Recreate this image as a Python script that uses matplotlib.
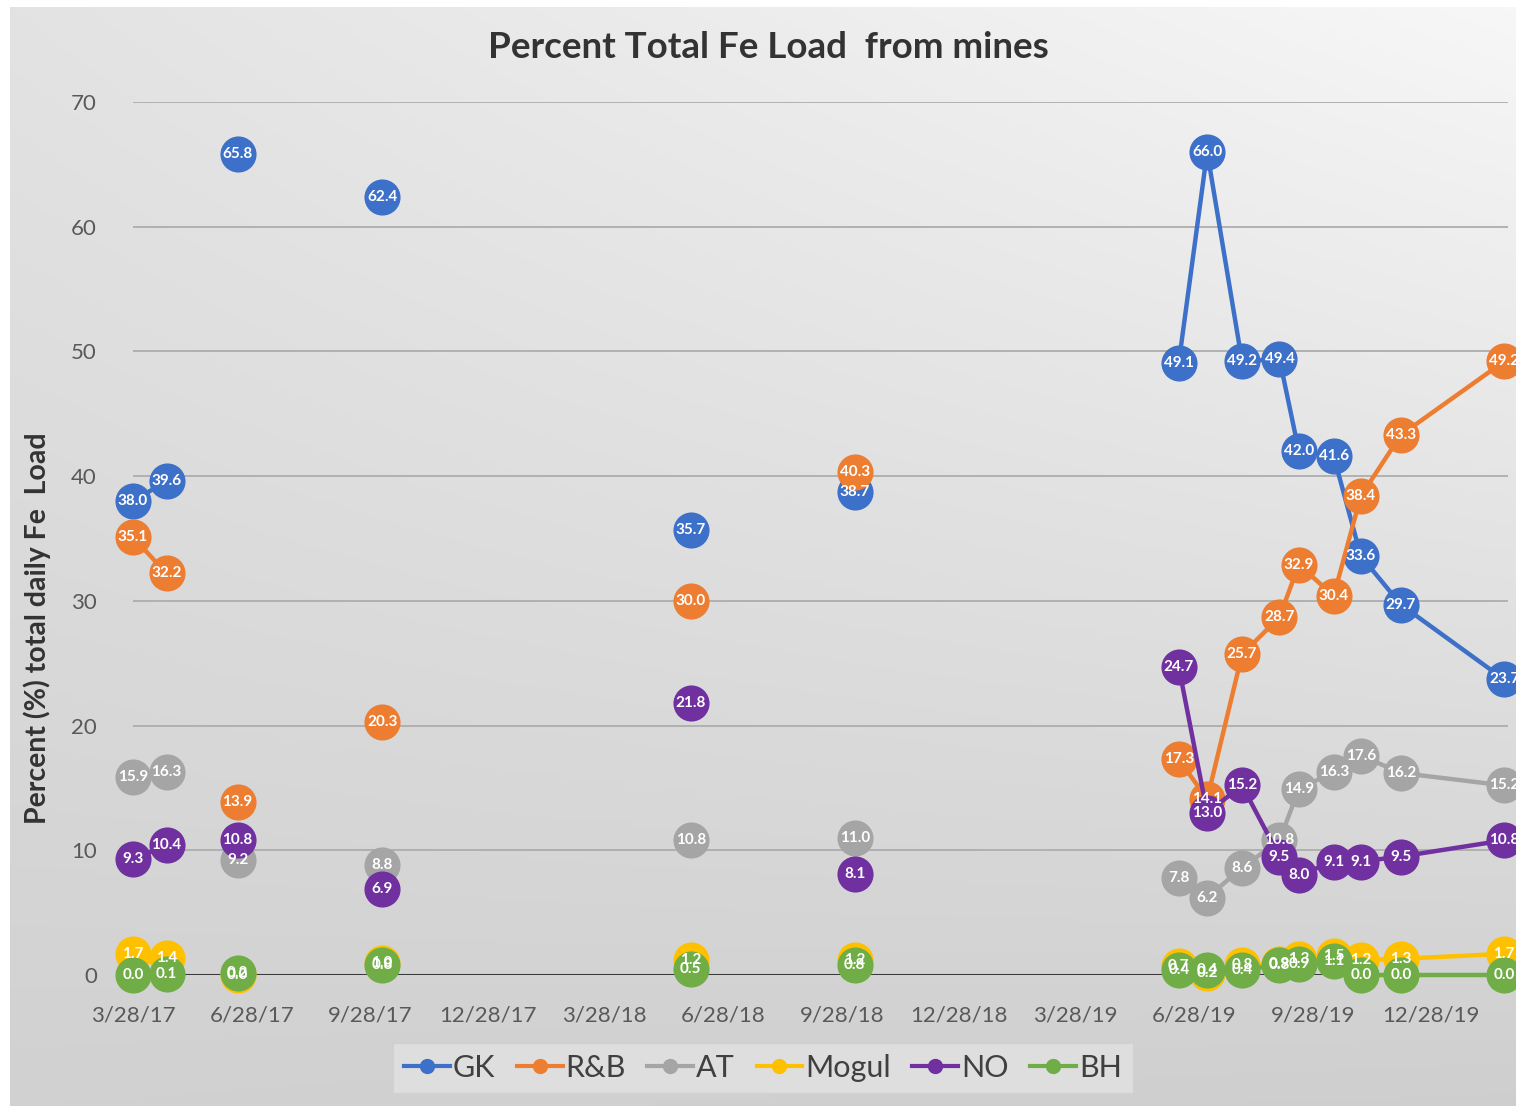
import datetime as dt
import numpy as np
import matplotlib.pyplot as plt
import matplotlib.dates as mdates
from matplotlib.lines import Line2D
from matplotlib.ticker import FuncFormatter

plt.rcParams['font.family'] = ['Lato', 'DejaVu Sans']

# sampling dates; points sharing a run number are joined by a line
dates = ['2017-03-28', '2017-04-23', '2017-06-17', '2017-10-07', '2018-06-03', '2018-10-08',
         '2019-06-16', '2019-07-08', '2019-08-04', '2019-09-02', '2019-09-17', '2019-10-14',
         '2019-11-04', '2019-12-05', '2020-02-23']
runs = [0, 0, 1, 2, 3, 4, 5, 5, 5, 5, 5, 5, 5, 5, 5]

gk = [38.0, 39.6, 65.8, 62.4, 35.7, 38.7, 49.1, 66.0, 49.2, 49.4, 42.0, 41.6, 33.6, 29.7, 23.7]
rb = [35.1, 32.2, 13.9, 20.3, 30.0, 40.3, 17.3, 14.1, 25.7, 28.7, 32.9, 30.4, 38.4, 43.3, 49.2]
at = [15.9, 16.3, 9.2, 8.8, 10.8, 11.0, 7.8, 6.2, 8.6, 10.8, 14.9, 16.3, 17.6, 16.2, 15.2]
mogul = [1.7, 1.4, 0.0, 1.0, 1.2, 1.2, 0.7, 0.2, 0.8, 0.9, 1.3, 1.5, 1.2, 1.3, 1.7]
no = [9.3, 10.4, 10.8, 6.9, 21.8, 8.1, 24.7, 13.0, 15.2, 9.5, 8.0, 9.1, 9.1, 9.5, 10.8]
bh = [0.0, 0.1, 0.2, 0.8, 0.5, 0.8, 0.4, 0.4, 0.4, 0.8, 0.9, 1.1, 0.0, 0.0, 0.0]

names = ['GK', 'R&B', 'AT', 'Mogul', 'NO', 'BH']
series = [gk, rb, at, mogul, no, bh]
colors = ['#3d70c8', '#ed7d31', '#a5a5a5', '#ffc000', '#7030a0', '#70ad47']

x = [dt.datetime.strptime(d, '%Y-%m-%d') for d in dates]
runs = np.array(runs)

W, H = 1516, 1106
fig = plt.figure(figsize=(W / 100, H / 100), dpi=100)

# soft grey background, lighter toward the top right
bg = fig.add_axes([0, 0, 1, 1], zorder=-5)
gx = np.linspace(0, 1, 300)[None, :]
gy = np.linspace(0, 1, 300)[:, None]
shade = (0.89 * (1 - gx) * (1 - gy) + 0.97 * gx * (1 - gy)
         + 0.82 * (1 - gx) * gy + 0.81 * gx * gy)
shade[:2, :] = 1.0
shade[:, :2] = 1.0
bg.imshow(np.dstack([shade] * 3), aspect='auto', extent=[0, 1, 1, 0])
bg.axis('off')

ax = fig.add_axes([133 / W, 1 - 975 / H, (1508 - 133) / W, (975 - 102) / H])
ax.set_facecolor('none')

for i, (name, vals, col) in enumerate(zip(names, series, colors)):
    vals = np.array(vals)
    for r in np.unique(runs):
        idx = np.where(runs == r)[0]
        ax.plot([x[k] for k in idx], vals[idx], '-o', color=col, lw=3.2,
                ms=26, mec=col, mew=0, zorder=3 + i, clip_on=False)

for i, (vals, col) in enumerate(zip(series, colors)):
    for xi, v in zip(x, vals):
        ax.text(xi, v, f'{v:.1f}', color='white', fontsize=11, fontweight='bold',
                ha='center', va='center', zorder=20 + i, clip_on=False)

ax.set_ylim(0, 70)
ax.set_yticks(range(0, 71, 10))
ax.set_xlim(dt.datetime(2017, 3, 28), dt.datetime(2020, 2, 26))
ax.xaxis.set_major_locator(mdates.MonthLocator(bymonth=[3, 6, 9, 12], bymonthday=28))
ax.xaxis.set_major_formatter(FuncFormatter(
    lambda v, p: (lambda d: f'{d.month}/{d.day}/{d.year % 100}')(mdates.num2date(v))))

ax.grid(axis='y', color='#adadad', lw=1.3)
ax.set_axisbelow(True)
ax.axhline(0, color='#3a3a3a', lw=2.2, zorder=2)
for s in ax.spines.values():
    s.set_visible(False)
ax.tick_params(axis='both', length=0, labelsize=16, labelcolor='#595959')
ax.tick_params(axis='x', pad=22)
ax.tick_params(axis='y', pad=26)

fig.text(768 / W, 1 - 48 / H, 'Percent Total Fe Load  from mines', ha='center', va='center',
         fontsize=26.5, fontweight='bold', color='#333333')
fig.text(37 / W, 1 - 628 / H, 'Percent (%) total daily Fe  Load', ha='center', va='center',
         rotation=90, fontsize=20.5, fontweight='bold', color='#333333')

handles = [Line2D([], [], color=c, lw=3, marker='o', ms=10) for c in colors]
leg = fig.legend(handles, names, loc='center', bbox_to_anchor=(763 / W, 1 - 1068 / H),
                 ncol=6, fontsize=22, frameon=True, handlelength=1.5, handletextpad=0.1,
                 columnspacing=0.7, borderpad=0.35, labelcolor='#404040')
leg.get_frame().set_facecolor('#e2e2e2')
leg.get_frame().set_edgecolor('#d0d0d0')
leg.get_frame().set_boxstyle('square', pad=0)

fig.savefig('out.png', dpi=100)
